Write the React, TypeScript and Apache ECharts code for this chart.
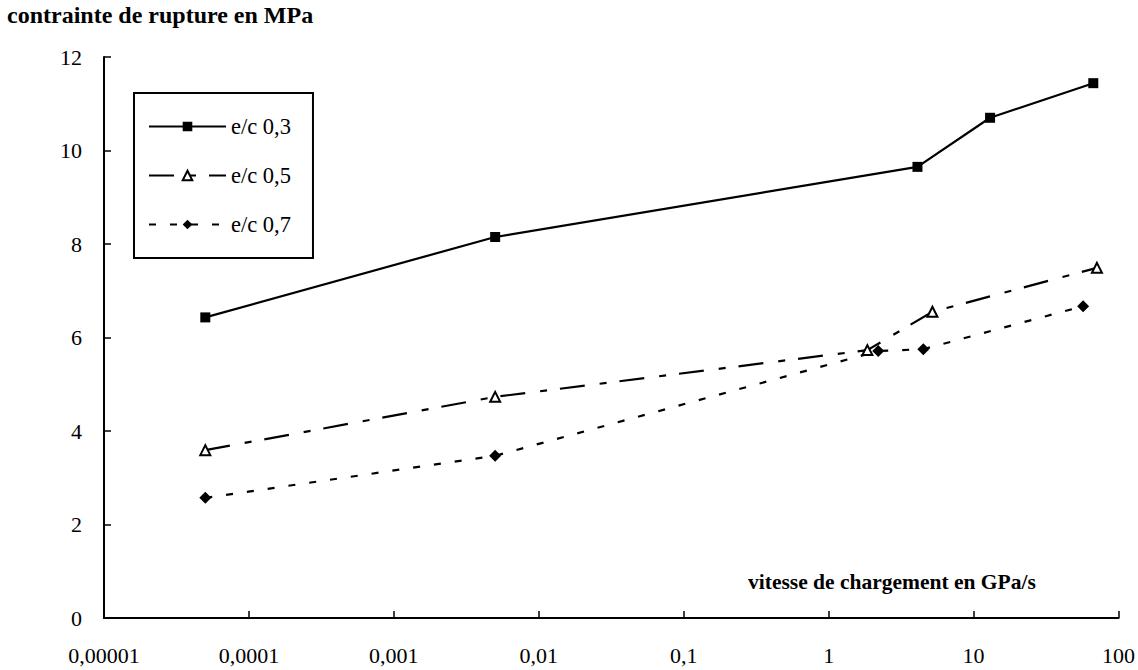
import React, { useEffect, useRef } from "react";
import * as echarts from "echarts";

const seriesNames = ["e/c 0,3", "e/c 0,5", "e/c 0,7"];
const ec03: [number, number][] = [
  [0.00005, 6.43],
  [0.005, 8.15],
  [4.1, 9.65],
  [13, 10.7],
  [67, 11.44],
];
const ec05: [number, number][] = [
  [0.00005, 3.59],
  [0.005, 4.73],
  [1.85, 5.73],
  [5.2, 6.55],
  [71, 7.49],
];
const ec07: [number, number][] = [
  [0.00005, 2.57],
  [0.005, 3.47],
  [2.2, 5.71],
  [4.5, 5.75],
  [57, 6.67],
];
const xTickLabels = ["0,00001", "0,0001", "0,001", "0,01", "0,1", "1", "10", "100"];
const yTitle = "contrainte de rupture en MPa";
const xTitle = "vitesse de chargement en GPa/s";

const FONT = "Liberation Serif";

export default function App() {
  const ref = useRef<HTMLDivElement>(null);
  useEffect(() => {
    if (!ref.current) return;
    const chart = echarts.init(ref.current, undefined, { renderer: "svg" });
    chart.setOption({
      animation: false,
      backgroundColor: "#ffffff",
      textStyle: { fontFamily: FONT, color: "#000" },
      grid: { left: 104, right: 18, top: 57, bottom: 52, containLabel: false },
      legend: {
        orient: "vertical",
        left: 134,
        top: 93,
        padding: [22, 22, 22, 14],
        itemGap: 26,
        itemWidth: 77,
        itemHeight: 12,
        borderColor: "#000",
        borderWidth: 2,
        backgroundColor: "#fff",
        textStyle: { fontFamily: FONT, fontSize: 22.5, color: "#000" },
        data: seriesNames,
      },
      graphic: [
        {
          type: "text",
          left: 7,
          top: 3,
          style: { text: yTitle, font: `bold 24px "Liberation Serif"`, fill: "#000" },
        },
        {
          type: "text",
          left: 748,
          top: 571,
          style: { text: xTitle, font: `bold 21.5px "Liberation Serif"`, fill: "#000" },
        },
      ],
      xAxis: {
        type: "log",
        logBase: 10,
        min: 0.00001,
        max: 100,
        axisLine: { show: true, lineStyle: { color: "#000", width: 2 } },
        axisTick: { show: true, inside: true, length: 7, lineStyle: { color: "#000", width: 1.5 } },
        minorTick: { show: false },
        splitLine: { show: false },
        axisLabel: {
          margin: 26,
          fontFamily: FONT,
          fontSize: 22,
          color: "#000",
          formatter: (v: number) => {
            const i = Math.round(Math.log10(v)) + 5;
            return xTickLabels[i] ?? "";
          },
        },
      },
      yAxis: {
        type: "value",
        min: 0,
        max: 12,
        interval: 2,
        axisLine: { show: true, lineStyle: { color: "#000", width: 2 } },
        axisTick: { show: true, inside: true, length: 7, lineStyle: { color: "#000", width: 1.5 } },
        splitLine: { show: false },
        axisLabel: { margin: 22, fontFamily: FONT, fontSize: 22, color: "#000" },
      },
      series: [
        {
          name: seriesNames[0],
          type: "line",
          data: ec03,
          symbol: "rect",
          symbolSize: 10,
          lineStyle: { color: "#000", width: 2.2, type: "solid" },
          itemStyle: { color: "#000" },
        },
        {
          name: seriesNames[1],
          type: "line",
          data: ec05,
          symbol: "triangle",
          symbolSize: 10,
          lineStyle: { color: "#000", width: 2.2, type: [25, 15, 7, 13] },
          itemStyle: { color: "#fff", borderColor: "#000", borderWidth: 2 },
        },
        {
          name: seriesNames[2],
          type: "line",
          data: ec07,
          symbol: "diamond",
          symbolSize: 12,
          lineStyle: { color: "#000", width: 2.2, type: [7, 14] },
          itemStyle: { color: "#000" },
        },
      ],
    });
    return () => chart.dispose();
  }, []);
  return (
    <div
      ref={ref}
      style={{ position: "absolute", left: 0, top: 0, width: 1138, height: 670 }}
    />
  );
}
